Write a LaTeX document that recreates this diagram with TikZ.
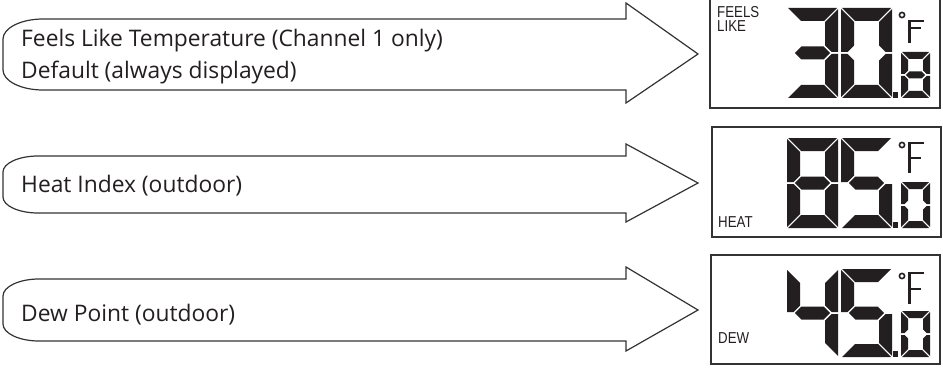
\documentclass[tikz,border=0pt]{standalone}
\usepackage{fontspec}
\setmainfont{Open Sans}
\newfontfamily\lcdfont[FakeStretch=0.84]{Liberation Sans}
\definecolor{ink}{HTML}{231F20}
\definecolor{edge}{HTML}{333333}
\tikzset{
  arrowshape/.style={draw=edge, line width=1.2pt, fill=white, line join=miter},
  lcdbox/.style={draw=edge, line width=1.3pt},
  lcd/.style={fill=ink},
  lcdline/.style={draw=ink, line width=2.2pt},
  maintext/.style={text=ink, inner sep=0pt, anchor=base west, font=\fontsize{22.8}{27}\selectfont},
  lcdtext/.style={text=ink, inner sep=0pt, anchor=base west, text depth=0pt, font=\lcdfont\fontsize{15.8}{18}\selectfont},
}
\def\dq{1.0}
\newcommand\lcdsega{\fill[lcd] ({\dq},0) -- ({\dW-\dq},0) -- ({\dW-\dT-\dq},{\dT}) -- ({\dT+\dq},{\dT}) -- cycle;}
\newcommand\lcdsegb{\fill[lcd] ({\dW},{\dq}) -- ({\dW},{\dM-\dq}) -- ({\dW-\dh},{\dM-\dq}) -- ({\dW-\dT},{\dM-\dh-\dq}) -- ({\dW-\dT},{\dT+\dq}) -- cycle;}
\newcommand\lcdsegc{\fill[lcd] ({\dW},{\dM+\dq}) -- ({\dW},{\dH-\dq}) -- ({\dW-\dT},{\dH-\dT-\dq}) -- ({\dW-\dT},{\dM+\dh+\dq}) -- ({\dW-\dh},{\dM+\dq}) -- cycle;}
\newcommand\lcdsegd{\fill[lcd] ({\dq},{\dH}) -- ({\dW-\dq},{\dH}) -- ({\dW-\dT-\dq},{\dH-\dT}) -- ({\dT+\dq},{\dH-\dT}) -- cycle;}
\newcommand\lcdsege{\fill[lcd] (0,{\dM+\dq}) -- (0,{\dH-\dq}) -- ({\dT},{\dH-\dT-\dq}) -- ({\dT},{\dM+\dh+\dq}) -- ({\dh},{\dM+\dq}) -- cycle;}
\newcommand\lcdsegf{\fill[lcd] (0,{\dq}) -- (0,{\dM-\dq}) -- ({\dh},{\dM-\dq}) -- ({\dT},{\dM-\dh-\dq}) -- ({\dT},{\dT+\dq}) -- cycle;}
\newcommand\lcdsegg{\fill[lcd] ({\dh+1.4*\dq},{\dM}) -- ({\dT+1.4*\dq},{\dM-\dh}) -- ({\dW-\dT-1.4*\dq},{\dM-\dh}) -- ({\dW-\dh-1.4*\dq},{\dM}) -- ({\dW-\dT-1.4*\dq},{\dM+\dh}) -- ({\dT+1.4*\dq},{\dM+\dh}) -- cycle;}
% x0, y0, W, H, T, segments
\newcommand{\lcddigit}[6]{%
  \begin{scope}[shift={(#1,#2)}]
    \pgfmathsetmacro\dW{#3}
    \pgfmathsetmacro\dH{#4}
    \pgfmathsetmacro\dT{#5}
    \pgfmathsetmacro\dh{#5/2}
    \pgfmathsetmacro\dM{#4/2}
    \foreach \s in {#6}{\csname lcdseg\s\endcsname}
  \end{scope}}
% top, bottom, headtop, headbottom, tipy, rx, ry
\newcommand{\bigarrow}[7]{%
  \draw[arrowshape] ({3+#6},#1) -- (626,#1) -- (626,#3) -- (698,#5) -- (626,#4) -- (626,#2) -- ({3+#6},#2)
    .. controls ({3+0.45*#6},#2) and (3,{#2-0.45*#7}) .. (3,{#2-#7}) -- (3,{#1+#7})
    .. controls (3,{#1+0.45*#7}) and ({3+0.45*#6},#1) .. ({3+#6},#1) -- cycle;}
% digit top y, F top offset
\newcommand{\degF}[2]{%
  \draw[ink, line width=1.6pt] (902,{#1+7}) circle (2.6);
  \draw[lcdline] (924,{#1+#2}) -- (909.5,{#1+#2}) -- (909.5,{#1+35});
  \draw[lcdline] (909.5,{#1+20}) -- (921,{#1+20});}
\begin{document}
\begin{tikzpicture}[x=1pt,y=-1pt]
\useasboundingbox (0,0) rectangle (943,369);
% arrows
\bigarrow{19}{90}{3}{103}{54}{40}{20}
\bigarrow{156}{213}{144}{222}{183}{35}{16}
\bigarrow{279}{341}{267}{351}{310}{36}{17}
\node[maintext] (t1) at (21,47) {Feels Like Temperature (Channel 1 only)};
\node[maintext] (t2) at (21,79) {Default (always displayed)};
\node[maintext] (t3) at (21,192) {Heat Index (outdoor)};
\node[maintext] (t4) at (21,321) {Dew Point (outdoor)};
% LCD boxes
\draw[lcdbox] (710,-3) rectangle (940,108);
\draw[lcdbox] (712,127) rectangle (941,237);
\draw[lcdbox] (711,255) rectangle (940,364);
% box 1: FEELS LIKE 30.8
\node[lcdtext] (l1) at (717,17.5) {FEELS};
\node[lcdtext] (l2) at (717,31.5) {LIKE};
\lcddigit{787}{8}{51}{90}{13}{a,b,c,d,g}
\lcddigit{841}{8}{51}{90}{13}{a,b,c,d,e,f}
\fill[lcd] (893,92) rectangle (898,98);
\lcddigit{901}{52}{29}{46}{7}{a,b,c,d,e,f,g}
\degF{8}{13}
% box 2: HEAT 85.0
\node[lcdtext] (l3) at (718,227) {HEAT};
\lcddigit{787}{138}{51}{90}{13}{a,b,c,d,e,f,g}
\lcddigit{841}{138}{51}{90}{13}{a,c,d,f,g}
\fill[lcd] (893,222) rectangle (898,228);
\lcddigit{901}{182}{29}{46}{7}{a,b,c,d,e,f}
\degF{138}{5}
% box 3: DEW 45.0
\node[lcdtext] (l4) at (718,343) {DEW};
\lcddigit{787}{269}{51}{88}{13}{b,c,f,g}
\lcddigit{841}{269}{51}{88}{13}{a,c,d,f,g}
\fill[lcd] (893,351) rectangle (898,357);
\lcddigit{901}{311}{29}{46}{7}{a,b,c,d,e,f}
\degF{269}{4}
\end{tikzpicture}
\end{document}
